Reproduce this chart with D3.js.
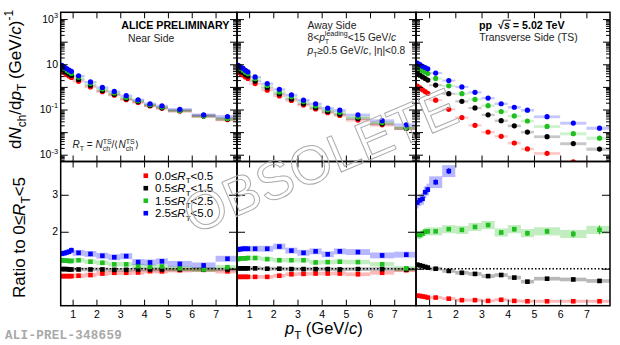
<!DOCTYPE html>
<html>
<head>
<meta charset="utf-8">
<script src="https://cdn.jsdelivr.net/npm/d3@7"></script>
<style>
  html, body { margin: 0; padding: 0; background: #fff; }
  svg { display: block; font-family: "Liberation Sans", Arial, Helvetica, sans-serif; }
  text { white-space: pre; }
</style>
</head>
<body>
<svg id="chart" width="620" height="345"></svg>
<script>
// ---------------- data ----------------
// pT bin edges (GeV/c)
const ptEdges = [0.5, 0.6, 0.7, 0.8, 0.9, 1.0, 1.5, 2.0, 2.5, 3.0, 3.5, 4.0, 4.5, 5.0, 6.0, 7.0, 8.0];
const xTickValues = [1, 2, 3, 4, 5, 6, 7];

// R_T classes (legend)
const rtLow  = ["0.0", "0.5", "1.5", "2.5"];
const rtHigh = ["0.5", "1.5", "2.5", "5.0"];

// dN_ch/dpT per R_T class, near side
const nearRt0 = [5.10, 4.25, 3.56, 3.02, 2.62, 1.76, 0.99, 0.61, 0.43, 0.27, 0.206, 0.144, 0.113, 0.086, 0.051, 0.036];
const nearRt1 = [6.32, 5.26, 4.41, 3.70, 3.20, 2.13, 1.17, 0.69, 0.47, 0.30, 0.224, 0.151, 0.119, 0.088, 0.052, 0.038];
const nearRt2 = [7.85, 6.48, 5.43, 4.57, 3.96, 2.67, 1.42, 0.81, 0.54, 0.34, 0.245, 0.162, 0.128, 0.091, 0.052, 0.040];
const nearRt3 = [9.0, 7.6, 6.5, 5.6, 4.9, 3.1, 1.66, 0.95, 0.63, 0.41, 0.27, 0.18, 0.145, 0.102, 0.058, 0.049];

// away side
const awayRt0 = [4.62, 3.88, 3.35, 2.74, 2.33, 1.40, 0.72, 0.40, 0.25, 0.157, 0.106, 0.072, 0.055, 0.034, 0.0209, 0.0146];
const awayRt1 = [5.98, 5.02, 4.33, 3.55, 3.02, 1.81, 0.92, 0.49, 0.292, 0.180, 0.121, 0.082, 0.062, 0.040, 0.0233, 0.0149];
const awayRt2 = [7.46, 6.36, 5.49, 4.49, 3.86, 2.31, 1.16, 0.60, 0.363, 0.224, 0.143, 0.098, 0.075, 0.047, 0.0263, 0.0154];
const awayRt3 = [9.0, 7.6, 6.6, 5.4, 4.6, 2.75, 1.41, 0.78, 0.44, 0.26, 0.18, 0.115, 0.093, 0.058, 0.032, 0.021];

// transverse side
const transRt0 = [1.08, 0.90, 0.74, 0.62, 0.52, 0.26, 0.102, 0.044, 0.020, 0.0100, 0.0065, 0.0033, 0.0018, 0.00115, 0.00048, 0.00030];
const transRt1 = [3.9, 3.3, 2.76, 2.35, 2.0, 1.2, 0.50, 0.23, 0.117, 0.058, 0.032, 0.019, 0.0100, 0.0063, 0.0031, 0.00178];
const transRt2 = [7.1, 6.1, 5.2, 4.55, 3.9, 2.37, 1.12, 0.50, 0.28, 0.148, 0.081, 0.052, 0.031, 0.0178, 0.0085, 0.0054];
const transRt3 = [11.2, 9.6, 8.2, 7.2, 6.3, 4.1, 1.92, 1.0, 0.575, 0.32, 0.18, 0.126, 0.093, 0.048, 0.025, 0.015];

// relative systematic uncertainty of the spectra, per bin
const specSysRel = [0.10, 0.10, 0.10, 0.10, 0.10, 0.10, 0.10, 0.11, 0.11, 0.12, 0.12, 0.13, 0.13, 0.14, 0.15, 0.16];

// ratio to 0<=R_T<5, near side
const ratioNear0 = [0.80, 0.80, 0.80, 0.80, 0.80, 0.81, 0.83, 0.87, 0.89, 0.89, 0.90, 0.935, 0.93, 0.96, 0.97, 0.93];
const ratioNear1 = [0.99, 0.99, 0.99, 0.98, 0.98, 0.98, 0.98, 0.98, 0.97, 0.97, 0.98, 0.98, 0.98, 0.98, 0.98, 0.98];
const ratioNear2 = [1.23, 1.22, 1.22, 1.21, 1.21, 1.23, 1.19, 1.16, 1.12, 1.12, 1.07, 1.05, 1.06, 1.01, 0.98, 1.04];
const ratioNear3 = [1.41, 1.42, 1.44, 1.46, 1.50, 1.43, 1.40, 1.35, 1.31, 1.34, 1.18, 1.17, 1.20, 1.13, 1.09, 1.27];

// away side
const ratioAway0 = [0.78, 0.78, 0.78, 0.78, 0.78, 0.78, 0.78, 0.81, 0.85, 0.86, 0.87, 0.87, 0.87, 0.85, 0.89, 0.96];
const ratioAway1 = [1.01, 1.01, 1.01, 1.01, 1.01, 1.01, 1.00, 1.00, 0.99, 0.99, 0.99, 0.99, 0.98, 0.99, 0.99, 0.98];
const ratioAway2 = [1.26, 1.28, 1.28, 1.28, 1.29, 1.29, 1.26, 1.23, 1.23, 1.23, 1.17, 1.18, 1.19, 1.18, 1.12, 1.01];
const ratioAway3 = [1.52, 1.53, 1.54, 1.54, 1.54, 1.54, 1.54, 1.60, 1.49, 1.43, 1.47, 1.39, 1.47, 1.45, 1.36, 1.38];

// transverse side
const ratioTrans0 = [0.27, 0.265, 0.25, 0.24, 0.22, 0.22, 0.19, 0.15, 0.15, 0.13, 0.16, 0.13, 0.12, 0.12, 0.12, 0.12];
const ratioTrans1 = [1.11, 1.09, 1.07, 1.05, 1.03, 1.00, 0.94, 0.89, 0.86, 0.80, 0.83, 0.76, 0.65, 0.73, 0.71, 0.67];
const ratioTrans2 = [1.92, 1.91, 1.95, 2.00, 2.01, 2.01, 2.07, 2.05, 2.13, 2.18, 1.98, 2.07, 1.96, 2.01, 1.94, 2.05];
const ratioTrans3 = [2.79, 2.85, 2.89, 3.07, 3.14, 3.34, 3.64, 4.1, 4.3, 4.4, 4.7, 5.0, 5.8, 5.6, 5.7, 5.6];

// statistical errors on the ratios (where visible)
const statAway3   = [0.01, 0.01, 0.01, 0.01, 0.01, 0.01, 0.01, 0.02, 0.02, 0.03, 0.03, 0.04, 0.05, 0.05, 0.06, 0.06];
const statTrans1  = [0.01, 0.01, 0.01, 0.01, 0.01, 0.01, 0.01, 0.01, 0.01, 0.01, 0.01, 0.02, 0.02, 0.02, 0.02, 0.03];
const statTrans2  = [0.02, 0.02, 0.02, 0.02, 0.02, 0.02, 0.02, 0.02, 0.03, 0.04, 0.05, 0.06, 0.07, 0.07, 0.09, 0.12];
const statTrans3  = [0.05, 0.05, 0.06, 0.06, 0.07, 0.07, 0.08, 0.09, 0.10, 0.10, 0.12, 0.14, 0.16, 0.18, 0.20, 0.22];

// absolute systematic half-width of the ratio bands, per class
const ratioSysNear  = [0.06, 0.05, 0.06, 0.08];
const ratioSysAway  = [0.05, 0.05, 0.06, 0.08];
const ratioSysTrans = [0.04, 0.05, 0.11, 0.16];

// ---------------- layout ----------------
const colors = ["#ff0000", "#000000", "#1fbf1f", "#0000ff"];
const spectra = [[nearRt0, nearRt1, nearRt2, nearRt3], [awayRt0, awayRt1, awayRt2, awayRt3], [transRt0, transRt1, transRt2, transRt3]];
const ratios  = [[ratioNear0, ratioNear1, ratioNear2, ratioNear3], [ratioAway0, ratioAway1, ratioAway2, ratioAway3], [ratioTrans0, ratioTrans1, ratioTrans2, ratioTrans3]];
const stats   = [[null, null, null, null], [null, null, null, statAway3], [null, statTrans1, statTrans2, statTrans3]];
const ratioSys = [ratioSysNear, ratioSysAway, ratioSysTrans];

const panelX = [[60.7, 237], [237, 416], [416, 610]];
const topY = [12.3, 161.5];
const botY = [161.5, 305.7];

const svg = d3.select("#chart");
const defs = svg.append("defs");

const yS = d3.scaleLog().domain([Math.pow(10, -3.3), Math.pow(10, 3.3)]).range([topY[1], topY[0]]);
const yR = d3.scaleLinear().domain([0, 3.9]).range([botY[1], botY[0]]);

const decades = d3.range(-3, 4).map(e => Math.pow(10, e));
const minorLog = [];
d3.range(-4, 4).forEach(e => d3.range(2, 10).forEach(k => {
  const v = k * Math.pow(10, e);
  if (v > yS.domain()[0] && v < yS.domain()[1]) minorLog.push(v);
}));

// rich text helper: sequence of pieces with italics, sub/superscripts (optionally stacked)
function rich(parent, x, y, parts, fs, opt = {}) {
  const g = parent.append("g");
  let cx = 0;
  const add = (t, size, dy, it) => {
    const el = g.append("text").attr("x", cx).attr("y", dy).attr("font-size", size).text(t);
    if (it) el.attr("font-style", "italic");
    if (opt.bold) el.attr("font-weight", "bold");
    el.attr("fill", opt.fill || "#000");
    return el.node().getComputedTextLength();
  };
  parts.forEach(p => {
    if (typeof p === "string") { cx += add(p, fs, 0, false); return; }
    if (p.sub !== undefined || p.sup !== undefined) {
      let w1 = 0, w2 = 0;
      if (p.sub) w1 = add(p.sub, fs * 0.7, fs * 0.3, false);
      if (p.sup) w2 = add(p.sup, fs * 0.7, -fs * 0.45, false);
      cx += Math.max(w1, w2);
      return;
    }
    const x0 = cx;
    const w = add(p.t, fs, 0, p.it);
    if (p.over) {
      g.append("line").attr("x1", x0 - 0.5).attr("x2", x0 + w + 1)
        .attr("y1", -fs * 0.82).attr("y2", -fs * 0.82)
        .attr("stroke", opt.fill || "#000").attr("stroke-width", 0.9);
    }
    cx += w;
  });
  const shift = opt.anchor === "end" ? -cx : opt.anchor === "middle" ? -cx / 2 : 0;
  g.attr("transform", `translate(${x},${y}) rotate(${opt.rot || 0}) translate(${shift},0)`);
  return g;
}

function bins(vals) {
  return vals.map((v, i) => ({ v, i, lo: ptEdges[i], hi: ptEdges[i + 1], c: (ptEdges[i] + ptEdges[i + 1]) / 2 }));
}

panelX.forEach((px, p) => {
  const x = d3.scaleLinear().domain([0.5, 7.9]).range(px);

  defs.append("clipPath").attr("id", "clipT" + p).append("rect")
    .attr("x", px[0]).attr("y", topY[0]).attr("width", px[1] - px[0]).attr("height", topY[1] - topY[0]);
  defs.append("clipPath").attr("id", "clipB" + p).append("rect")
    .attr("x", px[0]).attr("y", botY[0]).attr("width", px[1] - px[0]).attr("height", botY[1] - botY[0]);

  // ---- spectra ----
  const gT = svg.append("g").attr("clip-path", `url(#clipT${p})`);
  spectra[p].forEach((vals, c) => {
    gT.append("g").selectAll("rect").data(bins(vals)).join("rect")
      .attr("x", d => x(d.lo)).attr("width", d => x(d.hi) - x(d.lo))
      .attr("y", d => yS(d.v * (1 + specSysRel[d.i])))
      .attr("height", d => yS(d.v * (1 - specSysRel[d.i])) - yS(d.v * (1 + specSysRel[d.i])))
      .attr("fill", colors[c]).attr("fill-opacity", 0.22);
  });
  spectra[p].forEach((vals, c) => {
    gT.append("g").selectAll("circle").data(bins(vals)).join("circle")
      .attr("cx", d => x(d.c)).attr("cy", d => yS(d.v)).attr("r", 2.6)
      .attr("fill", colors[c]);
  });

  // ---- ratios ----
  const gB = svg.append("g").attr("clip-path", `url(#clipB${p})`);
  ratios[p].forEach((vals, c) => {
    const s = ratioSys[p][c];
    gB.append("g").selectAll("rect").data(bins(vals)).join("rect")
      .attr("x", d => x(d.lo)).attr("width", d => x(d.hi) - x(d.lo))
      .attr("y", d => yR(d.v + s)).attr("height", d => yR(d.v - s) - yR(d.v + s))
      .attr("fill", colors[c]).attr("fill-opacity", 0.28);
  });
  gB.append("line").attr("x1", px[0]).attr("x2", px[1]).attr("y1", yR(1)).attr("y2", yR(1))
    .attr("stroke", "#000").attr("stroke-width", 1.3).attr("stroke-dasharray", "1.5 2");
  ratios[p].forEach((vals, c) => {
    const st = stats[p][c];
    if (st) {
      gB.append("g").selectAll("line").data(bins(vals)).join("line")
        .attr("x1", d => x(d.c)).attr("x2", d => x(d.c))
        .attr("y1", d => yR(d.v - st[d.i])).attr("y2", d => yR(d.v + st[d.i]))
        .attr("stroke", colors[c]).attr("stroke-width", 1.3);
    }
    gB.append("g").selectAll("rect").data(bins(vals)).join("rect")
      .attr("x", d => x(d.c) - 2.3).attr("y", d => yR(d.v) - 2.3)
      .attr("width", 4.6).attr("height", 4.6).attr("fill", colors[c]);
  });

  // ---- axes (inward ticks on every side) ----
  const ax = svg.append("g").attr("class", "axes");
  const clean = g => { g.select(".domain").remove(); g.selectAll("line").attr("stroke", "#000").attr("stroke-width", 1); };

  ax.append("g").attr("transform", `translate(${px[0]},0)`)
    .call(d3.axisLeft(yS).tickValues(decades).tickSizeInner(-7).tickSizeOuter(0).tickFormat("")).call(clean);
  ax.append("g").attr("transform", `translate(${px[0]},0)`)
    .call(d3.axisLeft(yS).tickValues(minorLog).tickSizeInner(-4).tickSizeOuter(0).tickFormat("")).call(clean);
  ax.append("g").attr("transform", `translate(${px[1]},0)`)
    .call(d3.axisRight(yS).tickValues(decades).tickSizeInner(-7).tickSizeOuter(0).tickFormat("")).call(clean);
  ax.append("g").attr("transform", `translate(${px[1]},0)`)
    .call(d3.axisRight(yS).tickValues(minorLog).tickSizeInner(-4).tickSizeOuter(0).tickFormat("")).call(clean);

  ax.append("g").attr("transform", `translate(${px[0]},0)`)
    .call(d3.axisLeft(yR).tickValues([1, 2, 3]).tickSizeInner(-8).tickSizeOuter(0).tickFormat("")).call(clean);
  ax.append("g").attr("transform", `translate(${px[1]},0)`)
    .call(d3.axisRight(yR).tickValues([1, 2, 3]).tickSizeInner(-8).tickSizeOuter(0).tickFormat("")).call(clean);

  ax.append("g").attr("transform", `translate(0,${topY[0]})`)
    .call(d3.axisTop(x).tickValues(xTickValues).tickSizeInner(-6).tickSizeOuter(0).tickFormat("")).call(clean);
  ax.append("g").attr("transform", `translate(0,${topY[1]})`)
    .call(d3.axisBottom(x).tickValues(xTickValues).tickSizeInner(-6).tickSizeOuter(0).tickFormat("")).call(clean);
  ax.append("g").attr("transform", `translate(0,${botY[0]})`)
    .call(d3.axisTop(x).tickValues(xTickValues).tickSizeInner(-6).tickSizeOuter(0).tickFormat("")).call(clean);
  const xb = ax.append("g").attr("transform", `translate(0,${botY[1]})`)
    .call(d3.axisBottom(x).tickValues(xTickValues).tickSizeInner(-6).tickSizeOuter(0).tickPadding(5).tickFormat(d3.format("d")))
    .call(clean);
  xb.selectAll("text").attr("font-size", 10.5).attr("fill", "#000")
    .attr("font-family", "Liberation Sans, Arial, sans-serif");

  // frames
  svg.append("rect").attr("x", px[0]).attr("y", topY[0]).attr("width", px[1] - px[0]).attr("height", topY[1] - topY[0])
    .attr("fill", "none").attr("stroke", "#000").attr("stroke-width", 1.5);
  svg.append("rect").attr("x", px[0]).attr("y", botY[0]).attr("width", px[1] - px[0]).attr("height", botY[1] - botY[0])
    .attr("fill", "none").attr("stroke", "#000").attr("stroke-width", 1.5);
});

// ---- y tick labels (left panel only) ----
const logLabels = [[1e3, "3"], [1e1, null], [1e-1, "-1"], [1e-3, "-3"]];
logLabels.forEach(([v, ex]) => {
  const parts = ex ? ["10", { sup: ex }] : ["10"];
  rich(svg, 58, yS(v) + 3.7, parts, 10.5, { anchor: "end" });
});
[2, 3].forEach(v => {
  rich(svg, 58, yR(v) + 3.7, [String(v)], 10.5, { anchor: "end" });
});

// ---- axis titles ----
rich(svg, 21, 149, ["d", { t: "N", it: true }, { sub: "ch" }, "/d", { t: "p", it: true }, { sub: "T" }, " (GeV/", { t: "c", it: true }, ")", { sup: "-1" }], 17, { rot: -90 });
rich(svg, 25, 298, ["Ratio to 0≤", { t: "R", it: true }, { sub: "T" }, "<5"], 17, { rot: -90 });
rich(svg, 285, 334, [{ t: "p", it: true }, { sub: "T" }, " (GeV/", { t: "c", it: true }, ")"], 16.5);

// ---- panel annotations ----
rich(svg, 229.5, 29, ["ALICE PRELIMINARY"], 10.7, { anchor: "end", bold: true });
rich(svg, 128, 42, ["Near Side"], 10.4, { fill: "#222" });
rich(svg, 72.5, 148, [{ t: "R", it: true }, { sub: "T" }, " = ", { t: "N", it: true }, { sub: "ch", sup: "TS" }, "/⟨", { t: "N", it: true }, { sub: "ch", sup: "TS" }, "⟩"], 10, { fill: "#222" });

rich(svg, 307.5, 28.5, ["Away Side"], 10.4, { fill: "#222" });
rich(svg, 307.5, 40.5, ["8<", { t: "p", it: true }, { sub: "T", sup: "leading" }, "<15 GeV/", { t: "c", it: true }], 10.2, { fill: "#222" });
rich(svg, 307.5, 54, [{ t: "p", it: true }, { sub: "T" }, "≥0.5 GeV/", { t: "c", it: true }, ", |η|<0.8"], 10.2, { fill: "#222" });

rich(svg, 479, 29, ["pp  √", { t: "s", it: true, over: true }, " = 5.02 TeV"], 10.7, { bold: true });
rich(svg, 479.3, 41, ["Transverse Side (TS)"], 10.4, { fill: "#222" });

// ---- legend ----
rtLow.forEach((lo, i) => {
  const cy = 175.7 + i * 12.5;
  svg.append("rect").attr("x", 143.5).attr("y", cy - 2.3).attr("width", 4.6).attr("height", 4.6).attr("fill", colors[i]);
  rich(svg, 155, cy + 4.2, [lo + "≤", { t: "R", it: true }, { sub: "T" }, "<" + rtHigh[i]], 11.5);
});

// ---- preliminary id ----
svg.append("text").attr("x", 5).attr("y", 339).attr("font-family", "Liberation Mono, Courier New, monospace")
  .attr("font-size", 12.5).attr("letter-spacing", 0.3).attr("font-weight", "bold").attr("fill", "#a8a8a8")
  .text("ALI-PREL-348659");

// ---- stamp ----
svg.append("text").attr("transform", "translate(320,160) rotate(-23)")
  .attr("text-anchor", "middle").attr("dy", "0.36em")
  .attr("font-size", 54).attr("fill", "none").attr("stroke", "#aaa").attr("stroke-width", 1)
  .text("OBSOLETE");
</script>
</body>
</html>
